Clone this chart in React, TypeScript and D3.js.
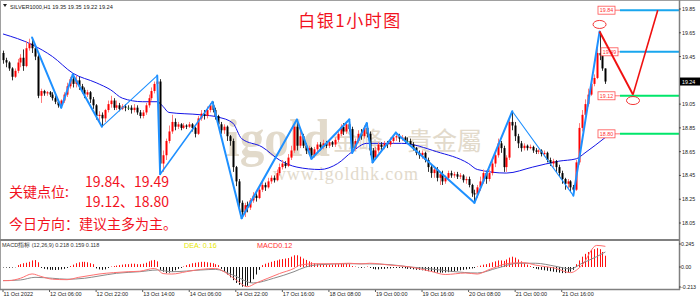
import React from 'react';
import * as d3 from 'd3';

// ---------- data ----------
const firstOpen = 19.48;
const closes = [
  19.42,19.40,19.35,19.28,19.33,19.40,19.44,19.37,19.52,19.56,
  19.52,19.45,19.12,19.16,19.14,19.15,19.13,19.10,19.07,19.04,
  19.08,19.13,19.20,19.26,19.22,19.25,19.20,19.17,19.13,19.15,
  19.09,19.04,18.95,18.96,18.93,19.00,19.05,19.08,19.02,19.04,
  19.01,19.03,19.02,19.02,19.00,19.02,18.98,18.95,18.98,19.04,
  19.10,19.16,19.22,19.24,18.55,18.62,18.74,18.82,18.90,18.86,
  18.88,18.85,18.87,18.86,18.88,18.85,18.80,18.93,18.97,18.95,
  19.00,19.04,19.00,18.95,18.88,18.83,18.86,18.78,18.74,18.52,
  18.40,18.22,18.14,18.20,18.18,18.24,18.28,18.26,18.33,18.37,
  18.35,18.40,18.43,18.41,18.47,18.52,18.55,18.53,18.60,18.66,
  18.86,18.70,18.78,18.70,18.66,18.68,18.62,18.67,18.71,18.69,
  18.72,18.70,18.73,18.71,18.75,18.80,18.86,18.82,18.88,18.84,
  18.68,18.74,18.80,18.78,18.85,18.80,18.66,18.60,18.66,18.71,
  18.69,18.72,18.71,18.74,18.77,18.78,18.76,18.77,18.74,18.74,
  18.71,18.68,18.64,18.62,18.64,18.58,18.52,18.47,18.50,18.43,
  18.46,18.40,18.43,18.47,18.45,18.46,18.44,18.45,18.41,18.42,
  18.37,18.30,18.29,18.35,18.40,18.47,18.42,18.47,18.55,18.62,
  18.72,18.68,18.52,18.60,18.90,18.87,18.78,18.72,18.68,18.70,
  18.68,18.69,18.66,18.65,18.66,18.63,18.64,18.58,18.55,18.57,
  18.52,18.47,18.42,18.38,18.40,18.35,18.33,18.56,18.85,18.96,
  19.05,19.13,19.22,19.27,19.48,19.46,19.35,19.24,
];
const highs = [
  19.50,19.44,19.41,19.36,19.35,19.43,19.47,19.51,19.58,19.60,
  19.61,19.54,19.47,19.18,19.17,19.16,19.16,19.15,19.12,19.08,
  19.09,19.15,19.23,19.28,19.30,19.29,19.28,19.22,19.19,19.17,
  19.16,19.11,19.05,18.99,18.98,19.01,19.08,19.12,19.10,19.08,
  19.06,19.05,19.05,19.04,19.04,19.05,19.04,19.00,19.00,19.06,
  19.13,19.19,19.24,19.29,19.26,18.66,18.76,18.87,18.96,18.93,
  18.90,18.89,18.89,18.88,18.90,18.89,18.86,18.95,19.00,19.00,
  19.03,19.06,19.07,19.02,18.96,18.90,18.88,18.87,18.79,18.76,
  18.53,18.42,18.24,18.22,18.23,18.26,18.31,18.30,18.35,18.40,
  18.39,18.43,18.45,18.45,18.50,18.55,18.58,18.57,18.63,18.70,
  18.88,18.92,18.84,18.80,18.72,18.70,18.69,18.69,18.73,18.73,
  18.75,18.74,18.75,18.74,18.77,18.82,18.88,18.89,18.90,18.92,
  18.86,18.76,18.83,18.84,18.87,18.89,18.82,18.68,18.69,18.73,
  18.73,18.74,18.74,18.77,18.79,18.81,18.80,18.79,18.78,18.77,
  18.76,18.73,18.69,18.66,18.66,18.65,18.60,18.54,18.53,18.52,
  18.48,18.49,18.45,18.49,18.49,18.48,18.48,18.47,18.46,18.44,
  18.44,18.38,18.33,18.37,18.44,18.50,18.49,18.50,18.58,18.65,
  18.76,18.74,18.70,18.62,18.94,18.99,18.90,18.80,18.74,18.72,
  18.71,18.71,18.70,18.68,18.67,18.67,18.66,18.65,18.60,18.59,
  18.58,18.54,18.49,18.43,18.42,18.41,18.37,18.58,18.89,19.00,
  19.09,19.18,19.25,19.30,19.52,19.66,19.48,19.35,
];
const lows = [
  19.39,19.36,19.33,19.25,19.27,19.31,19.36,19.33,19.36,19.50,
  19.48,19.42,19.10,19.06,19.12,19.12,19.11,19.08,19.05,19.02,
  19.02,19.06,19.11,19.18,19.19,19.19,19.17,19.14,19.10,19.11,
  19.06,19.01,18.92,18.90,18.86,18.90,18.98,19.02,19.00,19.00,
  18.99,19.00,18.99,19.00,18.97,18.98,18.96,18.93,18.93,18.96,
  19.02,19.08,19.14,19.17,18.46,18.48,18.58,18.72,18.80,18.83,
  18.84,18.83,18.84,18.84,18.85,18.82,18.77,18.79,18.91,18.92,
  18.93,18.98,18.98,18.92,18.85,18.80,18.80,18.74,18.70,18.48,
  18.36,18.18,18.09,18.10,18.14,18.16,18.22,18.23,18.25,18.31,
  18.32,18.34,18.38,18.39,18.40,18.45,18.50,18.51,18.52,18.58,
  18.64,18.66,18.68,18.68,18.63,18.62,18.59,18.60,18.64,18.66,
  18.67,18.68,18.68,18.69,18.69,18.73,18.78,18.79,18.80,18.82,
  18.64,18.66,18.72,18.75,18.76,18.77,18.62,18.56,18.58,18.64,
  18.66,18.67,18.68,18.69,18.72,18.74,18.73,18.74,18.72,18.72,
  18.69,18.66,18.62,18.59,18.59,18.56,18.48,18.43,18.43,18.40,
  18.37,18.37,18.38,18.41,18.43,18.43,18.42,18.42,18.39,18.38,
  18.35,18.27,18.22,18.26,18.32,18.38,18.38,18.40,18.45,18.52,
  18.60,18.64,18.48,18.48,18.58,18.83,18.74,18.68,18.65,18.66,
  18.66,18.67,18.64,18.63,18.63,18.61,18.61,18.56,18.53,18.52,
  18.48,18.44,18.38,18.33,18.34,18.31,18.28,18.32,18.54,18.82,
  18.94,19.03,19.12,19.20,19.26,19.42,19.33,19.22,
];

const maIdx = [0,10,17,24,32,37,41,48,53,55,57,68,74,79,82,89,95,101,109,115,120,125,137,149,160,163,173,182,191,197,200,207];
const maVal = [19.64,19.55,19.45,19.31,19.23,19.17,19.10,19.07,19.07,19.03,18.98,18.96,18.94,18.89,18.76,18.69,18.58,18.52,18.50,18.55,18.65,18.72,18.72,18.65,18.55,18.50,18.47,18.52,18.57,18.59,18.64,18.77];

const zzIdx = [10,20,24,34,53,54,72,82,101,106,119,120,125,127,135,162,175,196,205];
const zzVal = [19.61,19.02,19.30,18.86,19.29,18.46,19.07,18.09,18.92,18.59,18.92,18.64,18.89,18.56,18.81,18.22,18.99,18.28,19.66];

const projIdx = [205, 216.5, 225];
const projVal = [19.66, 19.13, 19.84];
const markIdx = [205, 216.5];
const markVal = [19.72, 19.08];

const levels = [19.84, 19.49, 19.12, 18.80];
const levelLabels = ['19.84', '19.49', '19.12', '18.80'];

const priceTicks = [19.85, 19.65, 19.45, 19.05, 18.85, 18.65, 18.45, 18.25, 18.05];
const lastPrice = 19.24;
const macdTicks = [0.245, 0, -0.213];
const macdTickLabels = ['0.245', '0.00', '-0.213'];

const timeIdx = [0,16,32,48,64,80,96,112,128,144,160,176,192];
const timeLabels = ['11 Oct 2022','12 Oct 06:00','12 Oct 22:00','13 Oct 14:00','14 Oct 06:00','14 Oct 22:00','17 Oct 16:00','18 Oct 08:00','19 Oct 00:00','19 Oct 16:00','20 Oct 08:00','21 Oct 00:00','21 Oct 16:00'];

const hist = [
  -0.005,-0.006,-0.008,-0.006,-0.003,
  0.02,0.03,0.04,0.045,0.055,0.07,0.074,0.05,
  -0.01,-0.02,-0.025,-0.03,-0.03,-0.032,-0.03,-0.025,-0.02,-0.01,
  0.01,0.025,0.04,0.05,0.055,0.055,0.05,0.04,0.03,
  -0.015,-0.025,-0.03,-0.025,-0.01,
  0.005,0.01,
  0.015,0.02,0.025,0.03,0.03,0.035,0.035,0.03,0.03,0.035,0.045,0.06,0.07,0.075,
  0.06,
  -0.03,-0.05,-0.065,-0.06,-0.05,-0.035,
  -0.02,-0.01,0.005,
  0.02,0.03,0.04,0.045,0.05,0.055,0.055,0.05,0.045,0.04,0.03,
  0.02,
  -0.02,-0.05,-0.08,-0.11,-0.14,-0.17,-0.19,-0.21,-0.21,-0.2,-0.17,-0.13,-0.08,-0.03,
  0.02,0.035,0.045,0.055,0.065,0.07,0.08,0.085,0.09,0.095,0.11,0.125,0.125,0.11,0.09,0.075,0.06,0.05,
  0.04,0.035,0.03,0.03,0.028,0.025,0.025,0.03,0.03,0.035,0.035,0.035,0.03,
  0.01,0.005,-0.005,-0.01,-0.005,0.005,-0.01,
  -0.02,-0.025,-0.025,-0.02,-0.02,-0.015,-0.015,-0.01,-0.01,-0.01,-0.012,-0.015,-0.02,-0.02,-0.025,-0.03,
  -0.03,-0.035,-0.04,-0.045,-0.05,-0.055,-0.06,-0.06,-0.06,-0.058,-0.055,-0.05,-0.045,-0.04,-0.035,-0.03,-0.025,-0.02,-0.015,-0.01,
  0.005,0.015,0.025,0.03,0.04,0.05,0.06,0.07,0.07,0.065,0.08,0.1,0.11,0.1,0.08,0.06,0.04,0.025,0.01,
  -0.01,-0.02,-0.025,-0.03,-0.035,-0.04,-0.045,-0.05,-0.055,-0.06,-0.065,-0.065,-0.06,-0.05,-0.03,
  0.03,0.07,0.11,0.14,0.16,0.18,0.19,0.2,0.19,0.16,0.12,
];

const macdIdx = [0,2,6,10,13,17,22,26,31,33,38,43,47,52,53,55,58,63,68,73,77,80,84,87,91,95,100,102,107,114,119,123,126,133,140,147,152,159,163,167,174,179,183,190,195,199,204,207];
const macdVal = [-0.145,-0.145,-0.12,-0.074,-0.1,-0.13,-0.135,-0.11,-0.085,-0.075,-0.06,-0.05,-0.045,-0.015,-0.025,-0.07,-0.075,-0.05,-0.025,-0.015,-0.07,-0.135,-0.21,-0.17,-0.12,-0.07,-0.015,0.02,0.035,0.035,0.04,0.033,0.04,0.02,0.0,-0.046,-0.08,-0.064,-0.075,-0.028,0.04,0.046,0.02,-0.015,-0.06,0.02,0.23,0.22];
const sigIdx = [0,6,11,17,22,28,33,39,47,53,58,68,73,79,86,93,100,104,109,119,126,133,140,147,154,163,170,177,183,190,195,199,204,207];
const sigVal = [-0.145,-0.138,-0.11,-0.12,-0.13,-0.12,-0.096,-0.067,-0.05,-0.032,-0.05,-0.032,-0.025,-0.085,-0.17,-0.12,-0.05,0.0,0.025,0.035,0.033,0.025,0.0,-0.02,-0.046,-0.064,-0.01,0.04,0.04,0.007,-0.02,0.04,0.11,0.16];

// ---------- component ----------
export default function App() {
  const AX = 679; // price axis x
  const x = d3.scaleLinear().domain([0, 207]).range([3, 3 + 207 * 2.91]);
  const y = d3.scaleLinear().domain([18.05, 19.85]).range([223, 9]);
  const ym = d3.scaleLinear().domain([-0.213, 0.245]).range([287, 244]);

  const n = Math.min(closes.length, highs.length, lows.length);
  const candles = d3.range(n).map((i) => {
    const o = i === 0 ? firstOpen : closes[i - 1];
    const c = closes[i];
    return { i, o, c, h: Math.max(highs[i], o, c), l: Math.min(lows[i], o, c) };
  });

  const maLine = d3.line<number>().x((d, k) => x(maIdx[k])).y((d) => y(d)).curve(d3.curveMonotoneX);
  const macdLine = d3.line<number>().x((d, k) => x(macdIdx[k])).y((d) => ym(d)).curve(d3.curveMonotoneX);
  const sigLine = d3.line<number>().x((d, k) => x(sigIdx[k])).y((d) => ym(d)).curve(d3.curveMonotoneX);

  const zzThin = new Set([3, 16]);
  const zzMid = new Set([5]);
  const levelColors = ['#19a6ee', '#19a6ee', '#00e66a', '#00e66a'];
  const labelShift = [0, 3, 0, 0];

  const cjk = '"Noto Sans CJK SC", "Noto Sans", sans-serif';
  const sans = '"Liberation Sans", Arial, sans-serif';
  const red = '#f2121e';

  return (
    <svg width={700} height={300} style={{ position: 'absolute', left: 0, top: 0, background: '#fff' }}>
      <defs>
        <clipPath id="mainClip"><rect x={1} y={2} width={AX - 1} height={237} /></clipPath>
        <clipPath id="macdClip"><rect x={1} y={241} width={AX - 1} height={48} /></clipPath>
      </defs>
      <rect x={0} y={0} width={700} height={300} fill="#fff" />

      {/* watermark */}
      <g fill="#ddd4c3" opacity={0.85}>
        <text x={226} y={156} fontFamily='"Liberation Serif", serif' fontSize={52} fontWeight="bold" textLength={104} lengthAdjust="spacingAndGlyphs">igold</text>
        <text x={333} y={150} fontFamily={cjk} fontSize={25}>金峰</text>
        <text x={407} y={150} fontFamily={cjk} fontSize={25}>貴金屬</text>
        <text x={273} y={180} fontFamily='"Liberation Serif", serif' fontSize={18} textLength={145}>www.igoldhk.com</text>
      </g>

      {/* main pane */}
      <g clipPath="url(#mainClip)">
        <path d={maLine(maVal) || ''} fill="none" stroke="#1414e6" strokeWidth={1} />
        {candles.map((d) => {
          const cx = Math.round(x(d.i)) + 0.5;
          const bull = d.c > d.o;
          const doji = d.c === d.o;
          const top = y(Math.max(d.o, d.c));
          const bot = y(Math.min(d.o, d.c));
          return (
            <g key={d.i}>
              <line x1={cx} x2={cx} y1={y(d.h)} y2={y(d.l)} stroke={bull ? '#ff7a7a' : '#333'} strokeWidth={1} />
              <rect x={cx - 1} y={top} width={2} height={Math.max(1, bot - top)} fill={doji ? '#2a8a2a' : bull ? '#ff0000' : '#000'} />
            </g>
          );
        })}
        {zzIdx.slice(1).map((_, k) => (
          <line key={k} x1={x(zzIdx[k])} y1={y(zzVal[k])} x2={x(zzIdx[k + 1])} y2={y(zzVal[k + 1])}
            stroke="#1e90ff" strokeWidth={zzThin.has(k) ? 1.1 : zzMid.has(k) ? 1.5 : 2} strokeLinecap="round" />
        ))}
        {/* level lines */}
        {levels.map((lv, k) => (
          <g key={k}>
            <line x1={620} x2={AX} y1={y(lv)} y2={y(lv)} stroke={levelColors[k]} strokeWidth={2} />
            <line x1={615 + labelShift[k]} x2={620} y1={y(lv)} y2={y(lv)} stroke="#ff5050" strokeWidth={0.8} />
            <rect x={598 + labelShift[k]} y={y(lv) - 4} width={17} height={8} fill="#fff" stroke="#ff5050" strokeWidth={0.8} />
            <text x={606.5 + labelShift[k]} y={y(lv) + 2} textAnchor="middle" fontFamily={sans} fontSize={5.3} fill="#ff3030">{levelLabels[k]}</text>
          </g>
        ))}
        {/* projection */}
        <line x1={x(projIdx[0])} y1={y(projVal[0])} x2={x(projIdx[1])} y2={y(projVal[1])} stroke="#f01010" strokeWidth={2} />
        <line x1={x(projIdx[1])} y1={y(projVal[1])} x2={x(projIdx[2])} y2={y(projVal[2])} stroke="#f01010" strokeWidth={1.6} />
        {markIdx.map((m, k) => (
          <ellipse key={k} cx={x(m)} cy={y(markVal[k])} rx={6.5} ry={4} fill="none" stroke="#f02020" strokeWidth={0.9} />
        ))}
      </g>

      {/* header */}
      <path d="M3,4 L7,4 L5,7 Z" fill="#222" />
      <text x={10} y={8.5} fontFamily={sans} fontSize={5.6} fill="#222">SILVER1000,H1  19.35 19.35 19.22 19.24</text>
      <text x={350} y={27} textAnchor="middle" fontFamily={cjk} fontSize={17} fill={red} letterSpacing={1.5}>白银1小时图</text>

      {/* key levels text */}
      <g fontFamily={cjk} fill={red} fontSize={14}>
        <text x={85} y={187}>19.84、19.49</text>
        <text x={9} y={197}>关键点位:</text>
        <text x={85} y={207}>19.12、18.80</text>
        <text x={9} y={229}>今日方向：建议主多为主。</text>
      </g>

      {/* MACD pane */}
      <g clipPath="url(#macdClip)">
        {hist.slice(0, n).map((v, i) => {
          const cx = Math.round(x(i)) + 0.5;
          return <line key={i} x1={cx} x2={cx} y1={ym(0)} y2={ym(v) === ym(0) ? ym(0) + 0.8 : ym(v)} stroke={v >= 0 ? '#ff1010' : '#111'} strokeWidth={1} />;
        })}
        <path d={sigLine(sigVal) || ''} fill="none" stroke="#8a8a8a" strokeWidth={1} />
        <path d={macdLine(macdVal) || ''} fill="none" stroke="#ff7070" strokeWidth={1} />
      </g>
      <text x={2} y={247} fontFamily={sans} fontSize={5.5} fill="#333">MACD指标 (12,26,9) 0.218 0.159 0.118</text>
      <text x={184} y={248} fontFamily={sans} fontSize={7.2} fill="#e6e600">DEA: 0.16</text>
      <text x={257} y={248} fontFamily={sans} fontSize={7.2} fill="#ff3030">MACD0.12</text>

      {/* frame */}
      <line x1={0} x2={700} y1={0.5} y2={0.5} stroke="#a0a0a0" strokeWidth={1} />
      <line x1={0.5} x2={0.5} y1={0} y2={290} stroke="#a0a0a0" strokeWidth={1} />
      <line x1={0} x2={AX} y1={240} y2={240} stroke="#808080" strokeWidth={2} />
      <line x1={0} x2={AX + 1} y1={289.5} y2={289.5} stroke="#808080" strokeWidth={1.5} />
      <line x1={AX + 0.5} x2={AX + 0.5} y1={0} y2={290} stroke="#808080" strokeWidth={1.5} />

      {/* price axis */}
      {priceTicks.map((p, k) => (
        <g key={k}>
          <line x1={AX} x2={AX + 2} y1={y(p)} y2={y(p)} stroke="#333" strokeWidth={0.8} />
          <text x={AX + 3} y={y(p) + 2} fontFamily={sans} fontSize={5.3} fill="#222">{p.toFixed(2)}</text>
        </g>
      ))}
      <rect x={AX + 1} y={y(lastPrice) - 4} width={20} height={8} fill="#000" />
      <text x={AX + 3} y={y(lastPrice) + 2} fontFamily={sans} fontSize={5.3} fill="#fff">{lastPrice.toFixed(2)}</text>

      {macdTicks.map((v, k) => (
        <g key={k}>
          <line x1={AX} x2={AX + 2} y1={ym(v)} y2={ym(v)} stroke="#333" strokeWidth={0.8} />
          <text x={AX + 2} y={ym(v) + 2} fontFamily={sans} fontSize={5.3} fill="#222">{macdTickLabels[k]}</text>
        </g>
      ))}

      {/* time axis */}
      {timeIdx.map((t, k) => (
        <g key={k}>
          <line x1={x(t)} x2={x(t)} y1={290} y2={292} stroke="#333" strokeWidth={0.8} />
          <text x={x(t) + 0.5} y={296} fontFamily={sans} fontSize={5.5} fill="#222">{timeLabels[k]}</text>
        </g>
      ))}
    </svg>
  );
}
